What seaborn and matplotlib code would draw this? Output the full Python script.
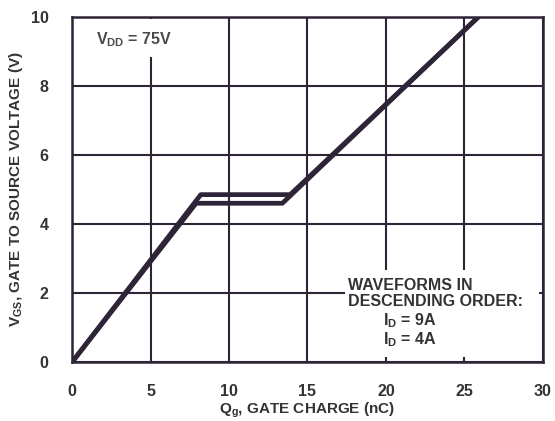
import pandas as pd
import matplotlib
matplotlib.use("Agg")
import matplotlib.pyplot as plt
import matplotlib.patches as patches
import seaborn as sns

# Data (gate charge in nC, V_GS in volts)
q_9a = [0, 8.2, 13.9, 25.9]
v_9a = [0, 4.85, 4.85, 10]
q_4a = [0, 7.9, 13.4, 25.9]
v_4a = [0, 4.6, 4.6, 10]
x_ticks = [0, 5, 10, 15, 20, 25, 30]
y_ticks = [0, 2, 4, 6, 8, 10]

df = pd.concat([
    pd.DataFrame({"Qg": q_9a, "VGS": v_9a, "ID": "9A"}),
    pd.DataFrame({"Qg": q_4a, "VGS": v_4a, "ID": "4A"}),
], ignore_index=True)

ink = "#2e2438"
txt = "#333333"

sns.set_theme(style="white")
plt.rcParams["font.family"] = ["Liberation Sans", "DejaVu Sans"]
plt.rcParams["font.weight"] = "bold"
plt.rcParams["mathtext.fontset"] = "custom"
plt.rcParams["mathtext.rm"] = "Liberation Sans:bold"
plt.rcParams["mathtext.default"] = "rm"

fig = plt.figure(figsize=(5.55, 4.21), dpi=100)
ax = fig.add_axes([0.130, 0.140, 0.848, 0.820])

sns.lineplot(data=df, x="Qg", y="VGS", units="ID", estimator=None,
             color=ink, linewidth=3.4, sort=False, ax=ax, zorder=4,
             solid_capstyle="butt")

ax.set_xlim(0, 30)
ax.set_ylim(0, 10)
ax.set_xticks(x_ticks)
ax.set_yticks(y_ticks)
ax.grid(True, color=ink, linewidth=1.5, zorder=1)
ax.set_axisbelow(True)
for s in ax.spines.values():
    s.set_color(ink)
    s.set_linewidth(1.8)
    s.set_zorder(5)

ax.tick_params(axis="both", length=0, labelsize=11.5, labelcolor=txt)
ax.tick_params(axis="x", pad=16)
ax.tick_params(axis="y", pad=17)
for lab in ax.get_xticklabels() + ax.get_yticklabels():
    lab.set_fontweight("bold")

ax.set_xlabel("Q$_g$, GATE CHARGE (nC)", fontsize=11, fontweight="bold",
              color=txt, labelpad=1)
ax.set_ylabel("V$_{GS}$, GATE TO SOURCE VOLTAGE (V)", fontsize=11,
              fontweight="bold", color=txt, labelpad=4)

# white panels behind the notes
ax.add_patch(patches.Rectangle((0.58, 0.014), 0.413, 0.253,
                               transform=ax.transAxes, facecolor="white",
                               edgecolor="none", zorder=2))
ax.add_patch(patches.Rectangle((0.01, 0.885), 0.27, 0.11,
                               transform=ax.transAxes, facecolor="white",
                               edgecolor="none", zorder=2))

ax.text(1.5, 9.33, "V$_{DD}$ = 75V", fontsize=11.5, fontweight="bold",
        color="#4a4a4a", va="center", ha="left", zorder=3)

ax.text(17.6, 2.23, "WAVEFORMS IN", fontsize=11.5, fontweight="bold",
        color=txt, va="center", ha="left", zorder=3)
ax.text(17.6, 1.74, "DESCENDING ORDER:", fontsize=11.5, fontweight="bold",
        color=txt, va="center", ha="left", zorder=3)
ax.text(19.8, 1.20, "I$_D$ = 9A", fontsize=11.5, fontweight="bold",
        color=txt, va="center", ha="left", zorder=3)
ax.text(19.8, 0.64, "I$_D$ = 4A", fontsize=11.5, fontweight="bold",
        color=txt, va="center", ha="left", zorder=3)

fig.savefig("out.png", dpi=100)
